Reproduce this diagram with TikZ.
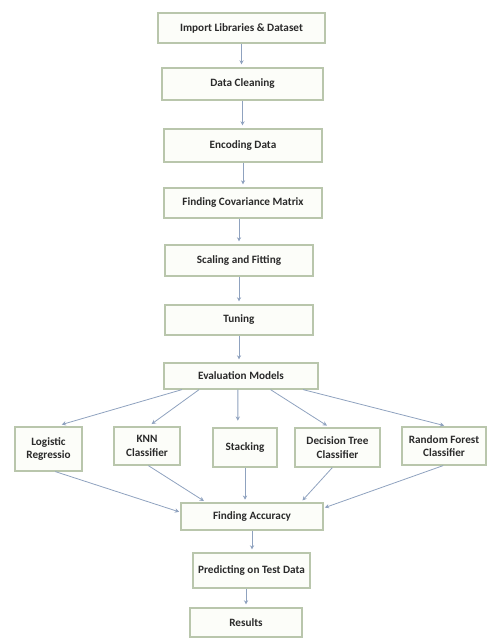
\documentclass[tikz,border=0pt]{standalone}
\usepackage{fontspec}
\setmainfont{Carlito}
\usetikzlibrary{arrows.meta,calc}
\definecolor{boxline}{HTML}{B9C6AC}
\definecolor{boxfill}{HTML}{FCFDF9}
\definecolor{conn}{HTML}{8FA2BF}
\definecolor{txt}{HTML}{2A2A2A}
\tikzset{
  stepbox/.style={draw=boxline, fill=boxfill, line width=0.9pt, inner sep=1pt,
    text=txt, font=\fontsize{8.4}{10}\selectfont\bfseries, align=center},
  conn/.style={draw=conn, line width=0.6pt, -{Stealth[length=3.2pt,width=3.2pt]}},
}
\begin{document}
\begin{tikzpicture}[x=0.75pt,y=-0.75pt]
\useasboundingbox (0,0) rectangle (488,641);
\node[stepbox, minimum width=167*0.75pt, minimum height=30*0.75pt] (b1) at (241.5,28) {Import Libraries \& Dataset};
\node[stepbox, minimum width=161*0.75pt, minimum height=32*0.75pt] (b2) at (242.5,84) {Data Cleaning};
\node[stepbox, minimum width=158*0.75pt, minimum height=33*0.75pt] (b3) at (243,145.5) {Encoding Data};
\node[stepbox, minimum width=158*0.75pt, minimum height=30*0.75pt] (b4) at (243,203) {Finding Covariance Matrix};
\node[stepbox, minimum width=148*0.75pt, minimum height=31*0.75pt] (b5) at (239,260.5) {Scaling and Fitting};
\node[stepbox, minimum width=148*0.75pt, minimum height=30*0.75pt] (b6) at (239,320) {Tuning};
\node[stepbox, minimum width=154*0.75pt, minimum height=26*0.75pt] (b7) at (241,376) {Evaluation Models};
\node[stepbox, minimum width=67*0.75pt, minimum height=44*0.75pt] (l1) at (48.5,449) {Logistic\\Regressio};
\node[stepbox, minimum width=66*0.75pt, minimum height=38*0.75pt] (l2) at (147,446) {KNN\\Classifier};
\node[stepbox, minimum width=64*0.75pt, minimum height=39*0.75pt] (l3) at (245,447.5) {Stacking};
\node[stepbox, minimum width=85*0.75pt, minimum height=39*0.75pt] (l4) at (337.5,447.5) {Decision Tree\\Classifier};
\node[stepbox, minimum width=84*0.75pt, minimum height=38*0.75pt] (l5) at (444,446) {Random Forest\\Classifier};
\node[stepbox, minimum width=142*0.75pt, minimum height=27*0.75pt] (fa) at (252,516.5) {Finding Accuracy};
\node[stepbox, minimum width=117*0.75pt, minimum height=35*0.75pt] (pt) at (251.5,570.5) {Predicting on Test Data};
\node[stepbox, minimum width=112*0.75pt, minimum height=29*0.75pt] (rs) at (246,622.5) {Results};

\draw[conn, shorten >=2.2pt] (b1.south) -- (b1.south |- b2.north);
\draw[conn, shorten >=2.2pt] (b2.south) -- (b2.south |- b3.north);
\draw[conn, shorten >=2.2pt] (b3.south) -- (b3.south |- b4.north);
\draw[conn, shorten >=2.2pt] (b4.south -| b5.north) -- (b5.north);
\draw[conn, shorten >=2.2pt] (b5.south) -- (b6.north);
\draw[conn, shorten >=2.2pt] (b6.south) -- (b6.south |- b7.north);

\draw[conn, shorten >=5pt] ($(b7.south west)!0.12!(b7.south east)$) -- ($(l1.north west)!0.6!(l1.north east)$);
\draw[conn, shorten >=3pt] ($(b7.south west)!0.23!(b7.south east)$) -- ($(l2.north west)!0.52!(l2.north east)$);
\draw[conn, shorten >=5pt] ($(b7.south west)!0.48!(b7.south east)$) -- ($(l3.north west)!0.39!(l3.north east)$);
\draw[conn, shorten >=2.5pt] ($(b7.south west)!0.69!(b7.south east)$) -- ($(l4.north west)!0.41!(l4.north east)$);
\draw[conn, shorten >=2.5pt] ($(b7.south west)!0.9!(b7.south east)$) -- ($(l5.north west)!0.54!(l5.north east)$);

\draw[conn, shorten >=1pt] ($(l1.south west)!0.6!(l1.south east)$) -- ($(fa.north west)!0.35!(fa.south west)$);
\draw[conn, shorten >=2pt] ($(l2.south west)!0.52!(l2.south east)$) -- ($(fa.north west)!0.18!(fa.north east)$);
\draw[conn, shorten >=2pt] (l3.south) -- (l3.south |- fa.north);
\draw[conn, shorten >=2pt] ($(l4.south west)!0.44!(l4.south east)$) -- ($(fa.north west)!0.84!(fa.north east)$);
\draw[conn, shorten >=1pt] ($(l5.south west)!0.49!(l5.south east)$) -- ($(fa.north east)!0.2!(fa.south east)$);

\draw[conn, shorten >=2.2pt] (fa.south) -- (fa.south |- pt.north);
\draw[conn, shorten >=2.2pt] (pt.south -| rs.north) -- (rs.north);
\end{tikzpicture}
\end{document}
